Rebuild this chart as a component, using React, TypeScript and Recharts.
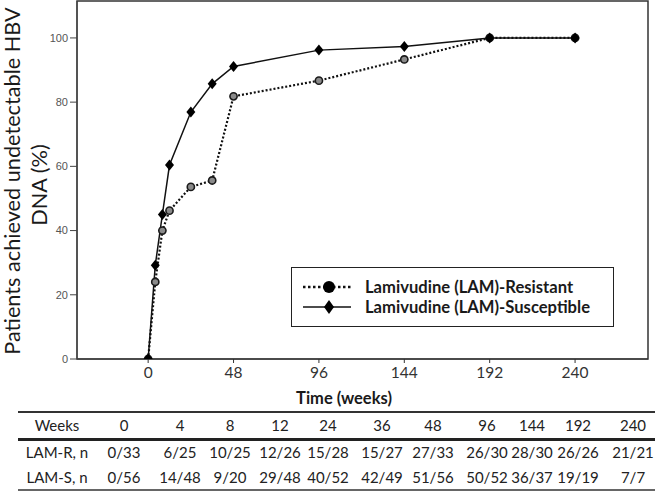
import { LineChart, Line, XAxis, YAxis, Legend, ReferenceArea } from "recharts";

const weeks = [0, 4, 8, 12, 24, 36, 48, 96, 144, 192, 240];
const resistantPct = [0, 24, 40, 46.2, 53.6, 55.6, 81.8, 86.7, 93.3, 100, 100];
const susceptiblePct = [0, 29.2, 45, 60.4, 76.9, 85.7, 91.1, 96.2, 97.3, 100, 100];
const resistantN = ["0/33", "6/25", "10/25", "12/26", "15/28", "15/27", "27/33", "26/30", "28/30", "26/26", "21/21"];
const susceptibleN = ["0/56", "14/48", "9/20", "29/48", "40/52", "42/49", "51/56", "50/52", "36/37", "19/19", "7/7"];
const xTicks = [0, 48, 96, 144, 192, 240];
const yTicks = [0, 20, 40, 60, 80, 100];

const data = weeks.map((w, i) => ({
  week: w,
  resistant: resistantPct[i],
  susceptible: susceptiblePct[i],
}));

const X_DOMAIN: [number, number] = [-40, 281];
const Y_DOMAIN: [number, number] = [0, 111.5];

// table column centres (px)
const colCenters = [57, 124, 180, 230, 280, 328, 382, 433, 487, 532, 578, 633];
const tableRows = [
  { label: "Weeks", cells: weeks.map(String), y: 425 },
  { label: "LAM-R, n", cells: resistantN, y: 452 },
  { label: "LAM-S, n", cells: susceptibleN, y: 477 },
];

const CircleDot = (props: any) => {
  const { cx, cy, index } = props;
  if (cx == null || cy == null) return null;
  return (
    <circle key={`r-${index}`} cx={cx} cy={cy} r={3.6} fill="#8a8a8a" stroke="#1a1a1a" strokeWidth={1.6} />
  );
};

const DiamondDot = (props: any) => {
  const { cx, cy, index } = props;
  if (cx == null || cy == null) return null;
  return (
    <path
      key={`s-${index}`}
      d={`M${cx},${cy - 5.5} L${cx + 4.5},${cy} L${cx},${cy + 5.5} L${cx - 4.5},${cy} Z`}
      fill="#000"
    />
  );
};

const YTitle = () => (
  <text transform="rotate(-90)" textAnchor="middle" fontFamily="Lato" fontSize={21.7} fill="#1a1a1a">
    <tspan x={-181} y={20}>Patients achieved undetectable HBV</tspan>
    <tspan x={-185} y={47}>DNA (%)</tspan>
  </text>
);

const XTitle = () => (
  <text x={344} y={404} textAnchor="middle" fontFamily="Lato" fontWeight={700} fontSize={16.5} fill="#1a1a1a">
    Time (weeks)
  </text>
);

const LegendBox = () => (
  <div
    style={{
      border: "1.5px solid #222",
      width: 323,
      height: 60,
      boxSizing: "border-box",
      background: "#fff",
      fontFamily: "Lato",
      fontWeight: 700,
      fontSize: 16.6,
      color: "#1a1a1a",
      position: "relative",
    }}
  >
    <svg width={60} height={60} style={{ position: "absolute", left: 0, top: 0 }}>
      <line x1={11} x2={59} y1={19} y2={19} stroke="#111" strokeWidth={2.5} strokeDasharray="2.5 2.5" />
      <circle cx={37} cy={19} r={6} fill="#000" />
      <line x1={11} x2={59} y1={39} y2={39} stroke="#111" strokeWidth={1.5} />
      <path d="M37,32 L42,39 L37,46 L32,39 Z" fill="#000" />
    </svg>
    <div style={{ position: "absolute", left: 73, top: 9, lineHeight: "20px" }}>
      Lamivudine (LAM)-Resistant
      <br />
      Lamivudine (LAM)-Susceptible
    </div>
  </div>
);

export default function App() {
  return (
    <div style={{ position: "absolute", left: 0, top: 0, width: 660, height: 492, background: "#fff" }}>
      <LineChart width={660} height={410} data={data} margin={{ top: 1, right: 12, left: 0, bottom: 0 }}>
        <ReferenceArea
          x1={X_DOMAIN[0]}
          x2={X_DOMAIN[1]}
          y1={Y_DOMAIN[0]}
          y2={Y_DOMAIN[1]}
          fill="none"
          stroke="#333"
          strokeWidth={1.5}
        />
        <XAxis
          dataKey="week"
          type="number"
          domain={X_DOMAIN}
          ticks={xTicks}
          allowDataOverflow
          height={51}
          tickSize={4}
          stroke="#333"
          tick={{ fontFamily: "Lato", fontSize: 15.5, fill: "#333", dy: 2 }}
          label={{ content: XTitle }}
        />
        <YAxis
          type="number"
          domain={Y_DOMAIN}
          ticks={yTicks}
          allowDataOverflow
          width={77}
          tickSize={7}
          stroke="#444"
          tick={{ fontFamily: "Liberation Sans", fontSize: 11, fill: "#555" }}
          label={{ content: YTitle }}
        />
        <Legend
          content={LegendBox}
          layout="vertical"
          align="center"
          verticalAlign="middle"
          wrapperStyle={{ left: 291, top: 267, width: 323, height: 60 }}
        />
        <Line
          type="linear"
          dataKey="resistant"
          name="Lamivudine (LAM)-Resistant"
          stroke="#111"
          strokeWidth={2.2}
          strokeDasharray="2 2"
          dot={CircleDot}
          activeDot={false}
          isAnimationActive={false}
        />
        <Line
          type="linear"
          dataKey="susceptible"
          name="Lamivudine (LAM)-Susceptible"
          stroke="#111"
          strokeWidth={1.5}
          dot={DiamondDot}
          activeDot={false}
          isAnimationActive={false}
        />
      </LineChart>

      <div style={{ position: "absolute", left: 18, top: 411, width: 637, height: 1.5, background: "#333" }} />
      <div style={{ position: "absolute", left: 18, top: 438, width: 637, height: 2.5, background: "#222" }} />
      <div style={{ position: "absolute", left: 18, top: 489, width: 637, height: 1.5, background: "#666" }} />
      {tableRows.map((row) =>
        [row.label, ...row.cells].map((txt, j) => (
          <div
            key={`${row.label}-${j}`}
            style={{
              position: "absolute",
              left: colCenters[j] - 35,
              width: 70,
              top: row.y - 10,
              height: 20,
              lineHeight: "20px",
              textAlign: "center",
              fontFamily: "Lato",
              fontSize: 15,
              color: "#222",
            }}
          >
            {txt}
          </div>
        ))
      )}
    </div>
  );
}
